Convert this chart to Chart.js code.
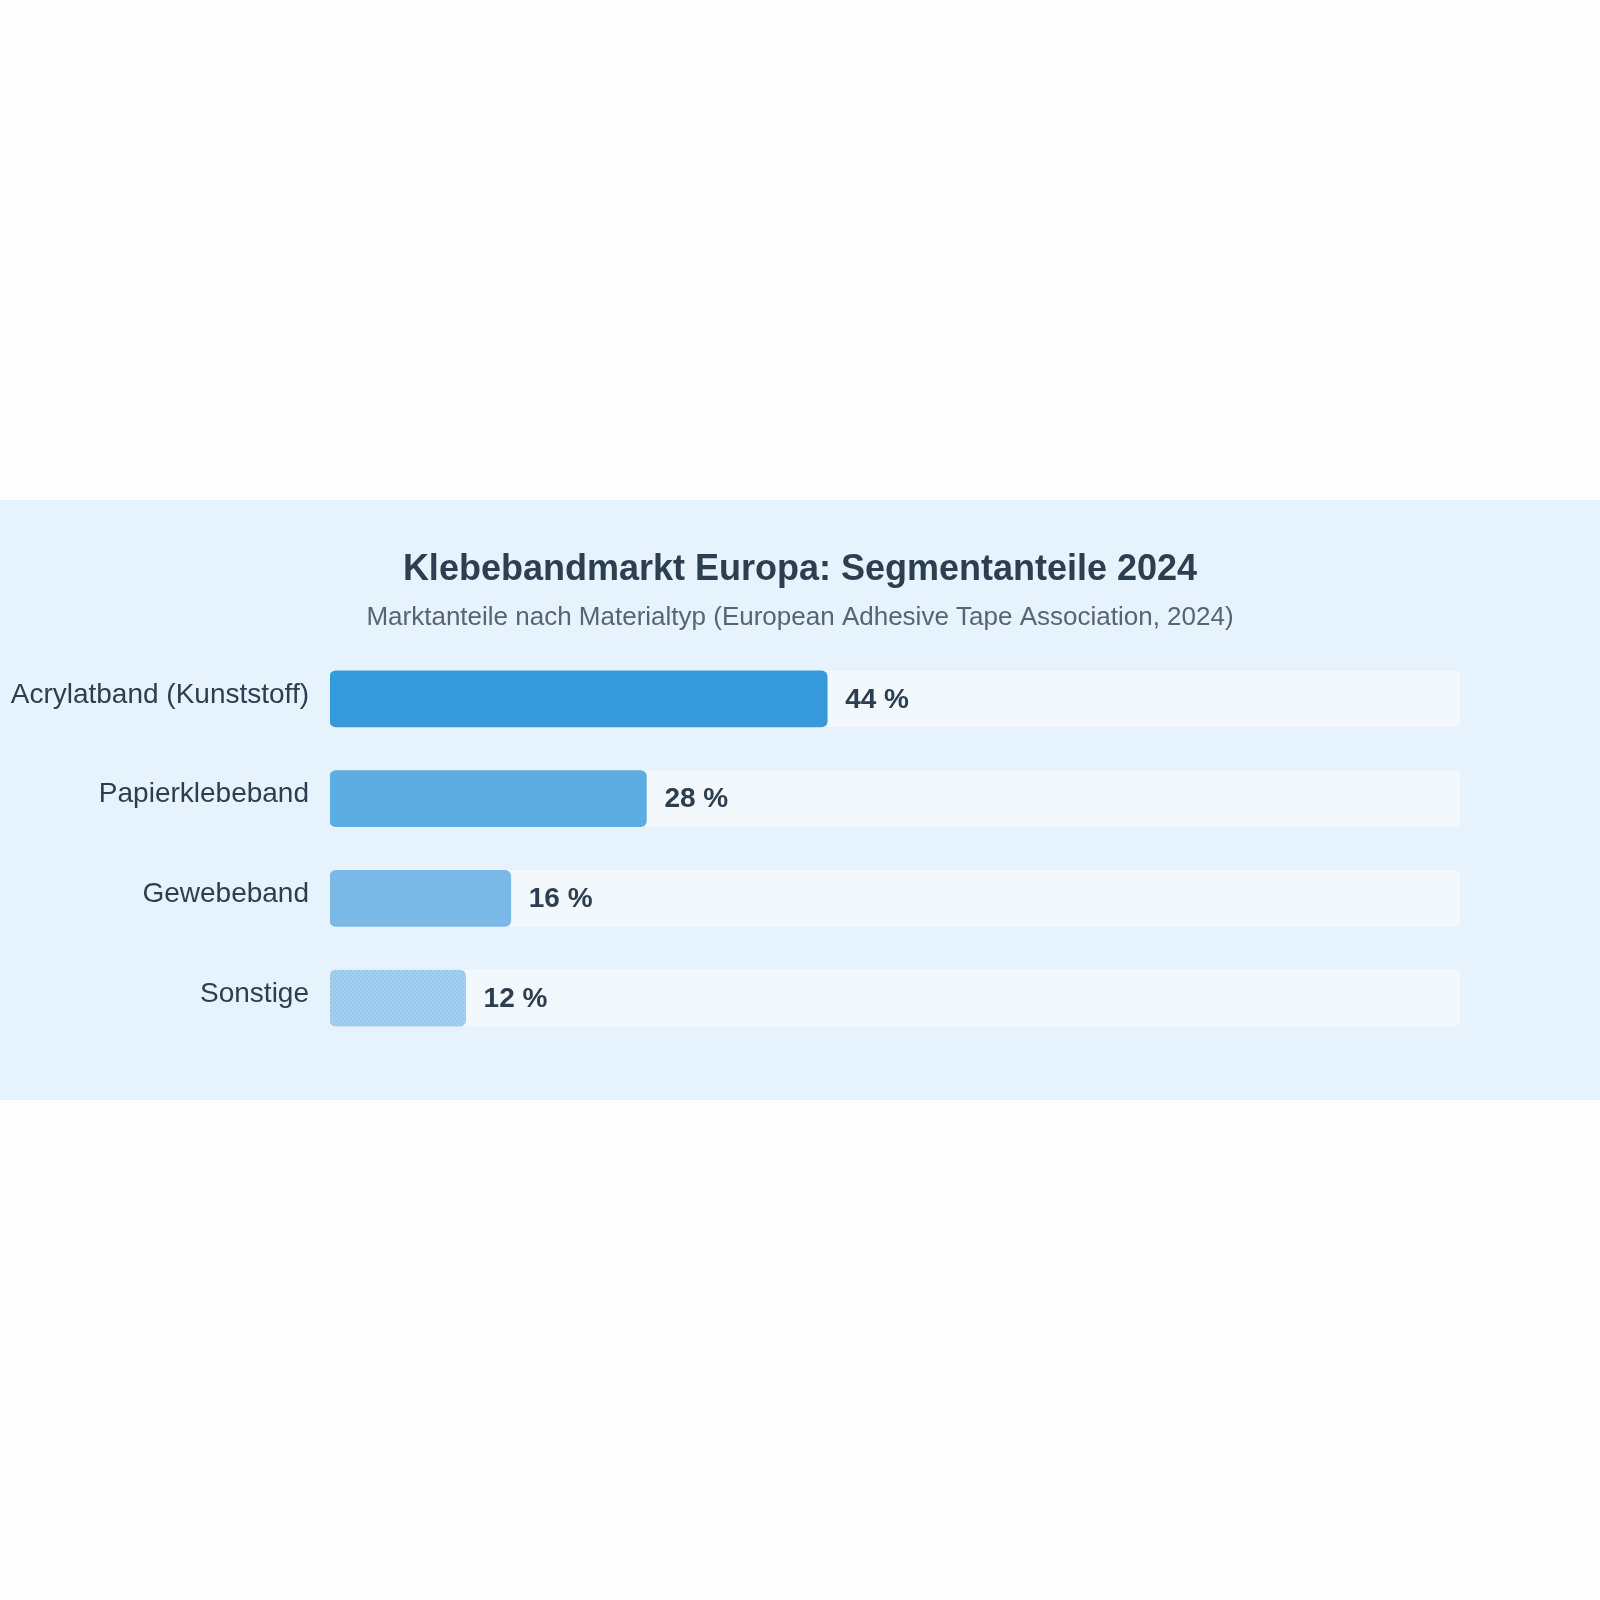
<!DOCTYPE html>
<html>
<head>
<meta charset="utf-8">
<script src="https://cdn.jsdelivr.net/npm/chart.js@4"></script>
<style>
  html, body { margin: 0; padding: 0; background: #FDFDFD; width: 1600px; height: 1600px; }
  #wrap { position: absolute; left: 0; top: 500px; width: 1600px; height: 600px; background: #E6F2FC; }
  canvas { display: block; }
</style>
</head>
<body>
<div id="wrap"><canvas id="c" width="1600" height="600"></canvas></div>
<script>
const titleText = 'Klebebandmarkt Europa: Segmentanteile 2024';
const subtitleText = 'Marktanteile nach Materialtyp (European Adhesive Tape Association, 2024)';
const categories = ['Acrylatband (Kunststoff)', 'Papierklebeband', 'Gewebeband', 'Sonstige'];
const shares = [44, 28, 16, 12];
const trackValues = [100, 100, 100, 100];
const axisMax = 100;

const FONT = "'Liberation Sans', Arial, Helvetica, sans-serif";

function dotPattern() {
  const t = document.createElement('canvas');
  t.width = 4; t.height = 4;
  const g = t.getContext('2d');
  g.fillStyle = '#A2CEF0';
  g.fillRect(0, 0, 4, 4);
  g.fillStyle = '#80BBE8';
  g.fillRect(1, 1, 1, 1);
  g.fillRect(3, 3, 1, 1);
  return document.getElementById('c').getContext('2d').createPattern(t, 'repeat');
}

const barColors = ['#3599DB', '#5DACE2', '#79B9E7', dotPattern()];

const headerText = {
  id: 'headerText',
  afterDraw(chart) {
    const ctx = chart.ctx;
    const cx = chart.width / 2;
    ctx.save();
    ctx.textAlign = 'center';
    ctx.textBaseline = 'middle';
    ctx.fillStyle = '#2C3E50';
    ctx.font = "bold 36px " + FONT;
    ctx.fillText(titleText, cx, 70);
    ctx.fillStyle = '#566573';
    ctx.font = "26px " + FONT;
    ctx.fillText(subtitleText, cx, 118);
    ctx.restore();
  }
};

const valueLabels = {
  id: 'valueLabels',
  afterDatasetsDraw(chart) {
    const ctx = chart.ctx;
    const meta = chart.getDatasetMeta(0);
    ctx.save();
    ctx.font = "bold 28px " + FONT;
    ctx.fillStyle = '#2C3E50';
    ctx.textAlign = 'left';
    ctx.textBaseline = 'middle';
    meta.data.forEach((el, i) => {
      ctx.fillText(shares[i] + ' %', el.x + 18, el.y + 1);
    });
    ctx.restore();
  }
};

new Chart(document.getElementById('c'), {
  type: 'bar',
  data: {
    labels: categories,
    datasets: [
      {
        data: shares,
        backgroundColor: barColors,
        borderRadius: 6,
        borderSkipped: false,
        barThickness: 56,
        grouped: false
      },
      {
        data: trackValues,
        backgroundColor: '#F3F8FD',
        borderRadius: 6,
        borderSkipped: false,
        barThickness: 56,
        grouped: false
      }
    ]
  },
  options: {
    indexAxis: 'y',
    responsive: false,
    animation: false,
    devicePixelRatio: 1,
    layout: { padding: { left: 0, right: 140, top: 149, bottom: 52 } },
    plugins: {
      legend: { display: false },
      tooltip: { enabled: false },
      title: { display: false },
      subtitle: { display: false }
    },
    scales: {
      x: {
        display: false,
        min: 0,
        max: axisMax
      },
      y: {
        grid: { display: false, drawTicks: false },
        border: { display: false },
        ticks: {
          color: '#2C3E50',
          font: { family: FONT, size: 28 },
          padding: 21,
          labelOffset: -4
        },
        afterFit(scale) { scale.width = 330; }
      }
    }
  },
  plugins: [headerText, valueLabels]
});
</script>
</body>
</html>
